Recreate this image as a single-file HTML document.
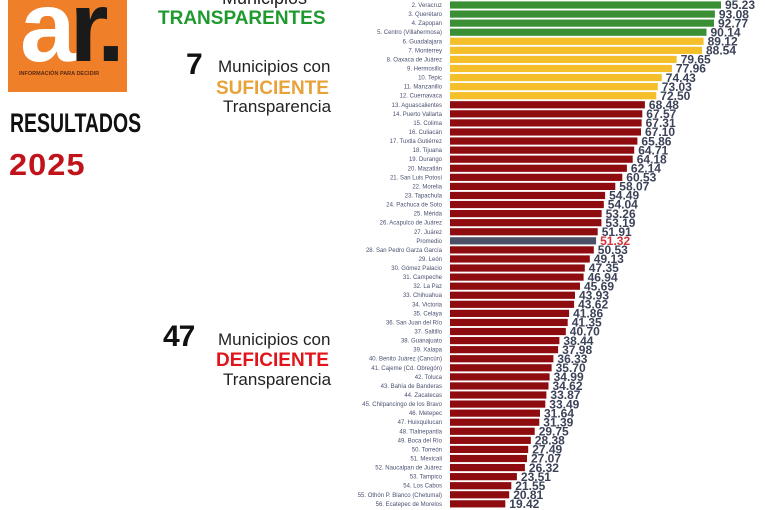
<!DOCTYPE html>
<html><head><meta charset="utf-8"><style>
body{margin:0;width:765px;height:510px;overflow:hidden;background:#fff;font-family:"Liberation Sans",sans-serif;position:relative}
.a{position:absolute;white-space:nowrap}
</style></head><body>
<div class="a" style="left:8px;top:0;width:119px;height:92px;background:#f07f2a"></div>
<div class="a" style="left:20px;top:-30px;font:bold 100px 'Liberation Sans',sans-serif;color:#fff;letter-spacing:-6px">a<span style="color:#1a1a1a">r.</span></div>
<div class="a" style="left:19px;top:71px;font:bold 5.5px 'Liberation Sans',sans-serif;color:#5a2a10">INFORMACIÓN PARA DECIDIR</div>
<div class="a" style="left:10px;top:108px;font:bold 27px 'Liberation Sans',sans-serif;color:#111;transform:scaleX(0.72);transform-origin:left">RESULTADOS</div>
<div class="a" style="left:9px;top:147px;font:900 31px 'Liberation Sans',sans-serif;color:#c0141a;letter-spacing:1px;transform:scaleX(1.05);transform-origin:left">2025</div>
<div class="a" style="left:222px;top:-12px;font:18px 'Liberation Sans',sans-serif;color:#222">Municipios</div>
<div class="a" style="left:158px;top:8px;font:bold 19px 'Liberation Sans',sans-serif;color:#1f9a2f">TRANSPARENTES</div>
<div class="a" style="left:186px;top:48px;font:900 30px 'Liberation Sans',sans-serif;color:#111">7</div>
<div class="a" style="left:218px;top:57px;font:17px 'Liberation Sans',sans-serif;color:#222">Municipios con</div>
<div class="a" style="left:216px;top:78px;font:bold 19px 'Liberation Sans',sans-serif;color:#e8a23a">SUFICIENTE</div>
<div class="a" style="left:223px;top:97px;font:17px 'Liberation Sans',sans-serif;color:#222">Transparencia</div>
<div class="a" style="left:163px;top:320px;font:900 30px 'Liberation Sans',sans-serif;color:#111;letter-spacing:-1px">47</div>
<div class="a" style="left:218px;top:330px;font:17px 'Liberation Sans',sans-serif;color:#222">Municipios con</div>
<div class="a" style="left:216px;top:350px;font:bold 19px 'Liberation Sans',sans-serif;color:#e0141a">DEFICIENTE</div>
<div class="a" style="left:223px;top:370px;font:17px 'Liberation Sans',sans-serif;color:#222">Transparencia</div>
<svg class="a" style="left:0;top:0" width="765" height="510" xmlns="http://www.w3.org/2000/svg">
<g id="rows" font-family="Liberation Sans, sans-serif"></g>
</svg>
<script>
var d=[["2. Veracruz",95.23,"g"],["3. Querétaro",93.08,"g"],["4. Zapopan",92.77,"g"],["5. Centro (Villahermosa)",90.14,"g"],["6. Guadalajara",89.12,"y"],["7. Monterrey",88.54,"y"],["8. Oaxaca de Juárez",79.65,"y"],["9. Hermosillo",77.96,"y"],["10. Tepic",74.43,"y"],["11. Manzanillo",73.03,"y"],["12. Cuernavaca",72.50,"y"],["13. Aguascalientes",68.48,"r"],["14. Puerto Vallarta",67.57,"r"],["15. Colima",67.31,"r"],["16. Culiacán",67.10,"r"],["17. Tuxtla Gutiérrez",65.86,"r"],["18. Tijuana",64.71,"r"],["19. Durango",64.18,"r"],["20. Mazatlán",62.14,"r"],["21. San Luis Potosí",60.53,"r"],["22. Morelia",58.07,"r"],["23. Tapachula",54.49,"r"],["24. Pachuca de Soto",54.04,"r"],["25. Mérida",53.26,"r"],["26. Acapulco de Juárez",53.19,"r"],["27. Juárez",51.91,"r"],["Promedio",51.32,"p"],["28. San Pedro Garza García",50.53,"r"],["29. León",49.13,"r"],["30. Gómez Palacio",47.35,"r"],["31. Campeche",46.94,"r"],["32. La Paz",45.69,"r"],["33. Chihuahua",43.93,"r"],["34. Victoria",43.62,"r"],["35. Celaya",41.86,"r"],["36. San Juan del Río",41.35,"r"],["37. Saltillo",40.70,"r"],["38. Guanajuato",38.44,"r"],["39. Xalapa",37.98,"r"],["40. Benito Juárez (Cancún)",36.33,"r"],["41. Cajeme (Cd. Obregón)",35.70,"r"],["42. Toluca",34.99,"r"],["43. Bahía de Banderas",34.62,"r"],["44. Zacatecas",33.87,"r"],["45. Chilpancingo de los Bravo",33.49,"r"],["46. Metepec",31.64,"r"],["47. Huixquilucan",31.39,"r"],["48. Tlalnepantla",29.75,"r"],["49. Boca del Río",28.38,"r"],["50. Torreón",27.49,"r"],["51. Mexicali",27.07,"r"],["52. Naucalpan de Juárez",26.32,"r"],["53. Tampico",23.51,"r"],["54. Los Cabos",21.55,"r"],["55. Othón P. Blanco (Chetumal)",20.81,"r"],["56. Ecatepec de Morelos",19.42,"r"]];
var c={g:"#3a8f35",y:"#f4bf2a",r:"#8e0c10",p:"#4b5066"};
var s="";
d.forEach(function(r,i){var y=5+i*9.07,w=r[1]*2.846;
s+='<rect x="450" y="'+(y-3.6).toFixed(2)+'" width="'+w.toFixed(1)+'" height="7.2" fill="'+c[r[2]]+'"/>';
s+='<text x="442" y="'+(y+2).toFixed(2)+'" text-anchor="end" font-size="6" fill="#4a5070">'+r[0]+'</text>';
s+='<text x="'+(w+454).toFixed(1)+'" y="'+(y+4.2).toFixed(2)+'" font-size="12" font-weight="bold" fill="'+(r[2]=="p"?"#d8323a":"#3c4258")+'">'+r[1].toFixed(2)+'</text>';});
document.getElementById("rows").innerHTML=s;
</script>
</body></html>
